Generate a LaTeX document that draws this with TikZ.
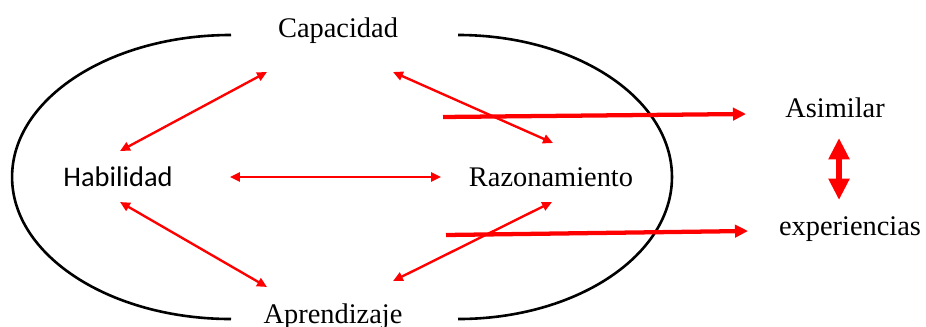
\documentclass[tikz,border=0pt]{standalone}
\usepackage{fontspec}
\setmainfont{Liberation Serif}
\newfontfamily\habfont{Carlito}
\usetikzlibrary{arrows.meta}
\definecolor{ArrowClr}{rgb}{1,0,0}

\begin{document}
\begin{tikzpicture}[x=0.4225pt,y=-0.4225pt,
  every node/.style={inner sep=0pt,anchor=base,font=\fontsize{12}{14}\selectfont},
  link/.style={ArrowClr,line width=1pt,{Triangle[length=4.2pt,width=3.8pt]}-{Triangle[length=4.2pt,width=3.8pt]}},
  push/.style={ArrowClr,line width=1.8pt,-{Triangle[length=5.5pt,width=5.2pt]}},
  swap/.style={ArrowClr,line width=2.6pt,{Triangle[length=9pt,width=8.4pt]}-{Triangle[length=9pt,width=8.4pt]}}]

\useasboundingbox (0,0) rectangle (926,327);

% open loop round the four words
\draw[line width=1.1pt] (231,35) arc[start angle=90,end angle=270,x radius=92.5pt,y radius=60pt];
\draw[line width=1.1pt] (458,35) arc[start angle=90,end angle=-90,x radius=90.4pt,y radius=60pt];

\node (cap) at (338,38) {Capacidad};
\node (hab) at (118,187) {\habfont Habilidad};
\node (raz) at (551,187) {Razonamiento};
\node (apr) at (333,323) {Aprendizaje};
\node (asi) at (835,118) {Asimilar};
\node (exp) at (850,235) {experiencias};

\coordinate (in1) at (443,117);
\coordinate (in2) at (446,235);

\draw[link] ([shift={(-71,34)}]cap.base) -- ([shift={(2,-36)}]hab.base);
\draw[link] ([shift={(55,34)}]cap.base) -- ([shift={(2,-44)}]raz.base);
\draw[link] ([shift={(112,-10)}]hab.base) -- ([shift={(-110,-10)}]raz.base);
\draw[link] ([shift={(2,15)}]hab.base) -- ([shift={(-66,-36)}]apr.base);
\draw[link] ([shift={(60,-42)}]apr.base) -- ([shift={(1,15)}]raz.base);

\draw[push] (in1) -- ([shift={(-89,-4)}]asi.base);
\draw[push] (in2) -- ([shift={(-102,-4)}]exp.base);
\draw[swap] ([shift={(4,20)}]asi.base) -- ([shift={(-11,-35)}]exp.base);

\end{tikzpicture}
\end{document}
